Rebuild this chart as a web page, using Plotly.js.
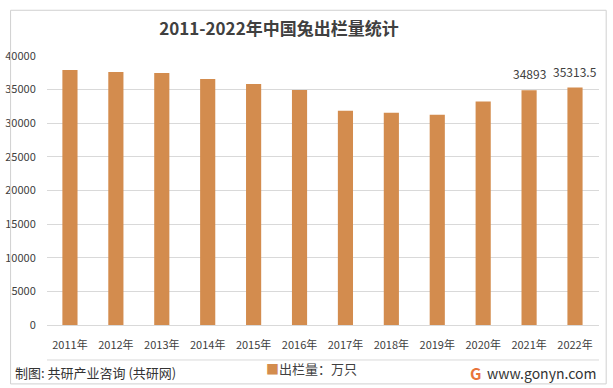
<!DOCTYPE html>
<html>
<head>
<meta charset="utf-8">
<script src="https://cdn.plot.ly/plotly-3.0.1.min.js"></script>
<style>
html,body{margin:0;padding:0;background:#fff;}
#chart{width:613px;height:388px;}
</style>
</head>
<body>
<div id="chart"></div>
<script>
const years = ['2011年','2012年','2013年','2014年','2015年','2016年','2017年','2018年','2019年','2020年','2021年','2022年'];
const stock = [37930, 37620, 37470, 36580, 35830, 34940, 31860, 31560, 31260, 33230, 34893, 35313.5];
const labels = ['', '', '', '', '', '', '', '', '', '', '34893', '35313.5'];
const yTicks = [0, 5000, 10000, 15000, 20000, 25000, 30000, 35000, 40000];
const seriesName = '出栏量：万只';

const FONT = '"Noto Sans CJK SC", "Noto Sans", sans-serif';
const BAR = '#D38C4E';

const trace = {
  type: 'bar',
  x: years,
  y: stock,
  name: seriesName,
  marker: {color: BAR},
  hoverinfo: 'x+y'
};

const dataLabels = years.map((yr, i) => labels[i] ? {
  text: labels[i], x: yr, y: stock[i], xref: 'x', yref: 'y',
  xanchor: 'center', yanchor: 'bottom', yshift: 6, showarrow: false,
  font: {family: FONT, size: 12, color: '#404040'}
} : null).filter(a => a);

const layout = {
  width: 613,
  height: 388,
  paper_bgcolor: '#ffffff',
  plot_bgcolor: '#ffffff',
  margin: {l: 47, r: 14, t: 56, b: 63},
  bargap: 0.67,
  showlegend: false,
  title: {
    text: '<b>2011-2022年中国兔出栏量统计</b>',
    font: {family: FONT, size: 17, color: '#404040'},
    x: 0.455, xanchor: 'center',
    y: 0.925, yanchor: 'middle'
  },
  xaxis: {
    type: 'category',
    tickfont: {family: FONT, size: 11, color: '#404040'},
    ticks: 'outside', ticklen: 10, tickcolor: 'rgba(0,0,0,0)',
    showline: false,
    showgrid: false,
    fixedrange: true
  },
  yaxis: {
    range: [0, 40000],
    tickvals: yTicks,
    ticktext: yTicks.map(String),
    tickfont: {family: FONT, size: 11, color: '#404040'},
    ticks: 'outside', ticklen: 8, tickcolor: 'rgba(0,0,0,0)',
    showgrid: true,
    gridcolor: '#D9D9D9',
    gridwidth: 1,
    zeroline: true,
    zerolinecolor: '#D9D9D9',
    zerolinewidth: 1,
    fixedrange: true
  },
  shapes: [
    {type: 'rect', xref: 'paper', yref: 'paper', x0: -0.066, x1: 1.013, y0: -0.219, y1: 1.17,
     line: {color: '#D0D0D0', width: 1}},
    {type: 'line', xref: 'paper', yref: 'paper', x0: 0, x1: 1, y0: -0.13, y1: -0.13,
     line: {color: '#D9D9D9', width: 1}}
  ],
  annotations: dataLabels.concat([
    {text: '<span style="color:' + BAR + '">■</span>' + seriesName, xref: 'paper', yref: 'paper',
     x: 0.48, y: -0.16, xanchor: 'center', yanchor: 'middle', showarrow: false,
     font: {family: FONT, size: 13, color: '#404040'}},
    {text: '制图: 共研产业咨询 (共研网)', xref: 'paper', yref: 'paper', x: -0.062, y: -0.178,
     xanchor: 'left', yanchor: 'middle', showarrow: false,
     font: {family: FONT, size: 13, color: '#333333'}},
    {text: 'www.gonyn.com', xref: 'paper', yref: 'paper', x: 0.998, y: -0.178,
     xanchor: 'right', yanchor: 'middle', showarrow: false,
     font: {family: FONT, size: 14, color: '#333333'}},
    {text: '<b>G</b>', xref: 'paper', yref: 'paper', x: 0.79, y: -0.178,
     xanchor: 'right', yanchor: 'middle', showarrow: false,
     font: {family: FONT, size: 16, color: '#E8743B'}}
  ])
};

Plotly.newPlot('chart', [trace], layout, {displayModeBar: false, staticPlot: true});
</script>
</body>
</html>
